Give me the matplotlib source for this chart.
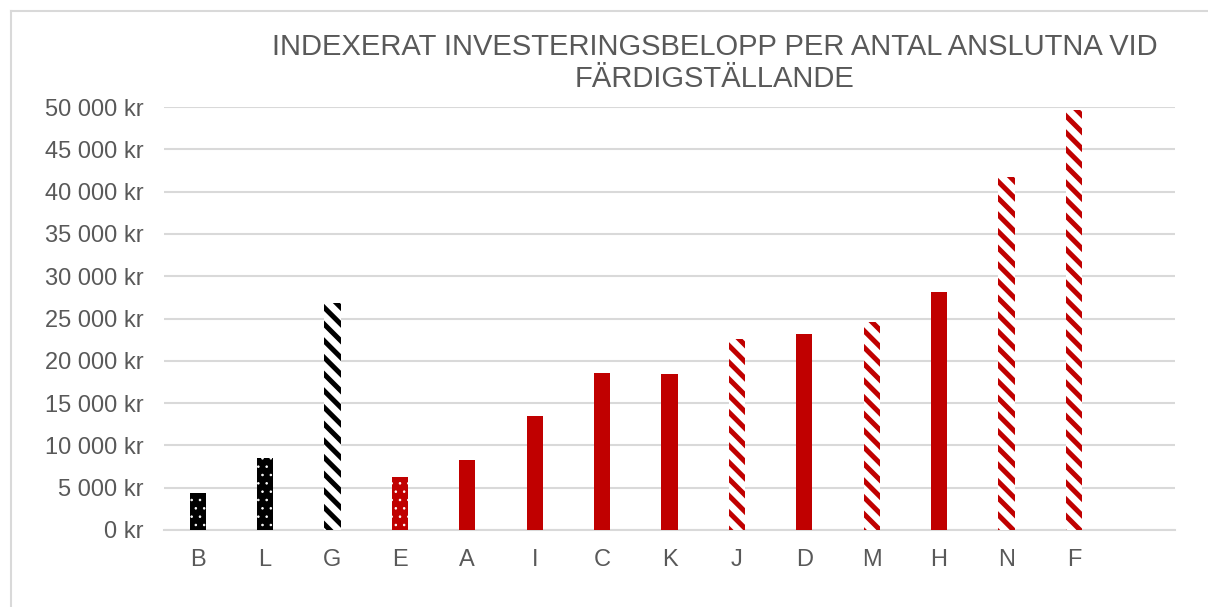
import matplotlib
matplotlib.use("Agg")
import matplotlib.pyplot as plt
from matplotlib.lines import Line2D

categories = ["B", "L", "G", "E", "A", "I", "C", "K", "J", "D", "M", "H", "N", "F"]
values = [4400, 8500, 26800, 6300, 8300, 13500, 18600, 18400, 22600, 23200, 24600, 28100, 41700, 49600]
# pattern style per bar: 'dots' black dotted, 'bstripe' black stripes, 'rdots' red dotted,
# 'solid' solid red, 'rstripe' red stripes
styles = ["dots", "dots", "bstripe", "rdots", "solid", "solid", "solid", "solid",
          "rstripe", "solid", "rstripe", "solid", "rstripe", "rstripe"]
yticks = list(range(0, 50001, 5000))
title = "INDEXERAT INVESTERINGSBELOPP PER ANTAL ANSLUTNA VID\nFÄRDIGSTÄLLANDE"

RED = "#C00000"
BLACK = "#000000"
plt.rcParams['font.family'] = ['Liberation Sans', 'DejaVu Sans']

W, H = 1208, 607
fig = plt.figure(figsize=(W / 100, H / 100), dpi=100)
ax = fig.add_axes([164 / W, 1 - 530 / H, 1011 / W, 423 / H])

def set_hl(p, lw):
    if hasattr(p, "set_hatch_linewidth"):
        p.set_hatch_linewidth(lw)

x = list(range(len(categories)))
bw = 0.24
for xi, v, s in zip(x, values, styles):
    if s == "solid":
        ax.bar(xi, v, width=bw, color=RED, linewidth=0, zorder=3)
    elif s in ("dots", "rdots"):
        fc = BLACK if s == "dots" else RED
        ax.bar(xi, v, width=bw, color=fc, linewidth=0, zorder=3)
        with plt.rc_context({'hatch.linewidth': 0.6}):
            bars = ax.bar(xi, v, width=bw, facecolor="none", edgecolor="white",
                          hatch="..", linewidth=0, zorder=4)
        for p in bars:
            set_hl(p, 0.6)
    else:
        ec = BLACK if s == "bstripe" else RED
        with plt.rc_context({'hatch.linewidth': 3.6}):
            bars = ax.bar(xi, v, width=bw, facecolor="white", edgecolor=ec,
                          hatch="\\\\", linewidth=0, zorder=3)
        for p in bars:
            set_hl(p, 3.6)

ax.set_xlim(-0.5, 14.5)
ax.set_ylim(0, 50000)
ax.set_xticks(x)
ax.set_xticklabels(categories)
ax.set_yticks(yticks)
ax.set_yticklabels([(f"{t:,}".replace(",", " ") + " kr") for t in yticks])
ax.tick_params(axis='both', length=0, labelsize=17, colors="#595959")
ax.tick_params(axis='y', pad=15)
ax.tick_params(axis='x', pad=13.5)
ax.grid(axis='y', color="#D9D9D9", linewidth=1.5, zorder=0)
ax.set_axisbelow(True)
for sp in ["top", "right", "left"]:
    ax.spines[sp].set_visible(False)
ax.spines["bottom"].set_color("#D9D9D9")
ax.spines["bottom"].set_linewidth(1.5)

fig.text(715 / W, 1 - 63 / H, title, ha="center", va="center", fontsize=21,
         color="#595959", linespacing=1.22)

# chart border (top and left visible)
fig.add_artist(Line2D([11 / W, 1.0], [1 - 10.5 / H, 1 - 10.5 / H], color="#D9D9D9",
                      linewidth=1.5, transform=fig.transFigure))
fig.add_artist(Line2D([11 / W, 11 / W], [1 - 10.5 / H, 0.0], color="#D9D9D9",
                      linewidth=1.5, transform=fig.transFigure))

fig.savefig("out.png", dpi=100)
